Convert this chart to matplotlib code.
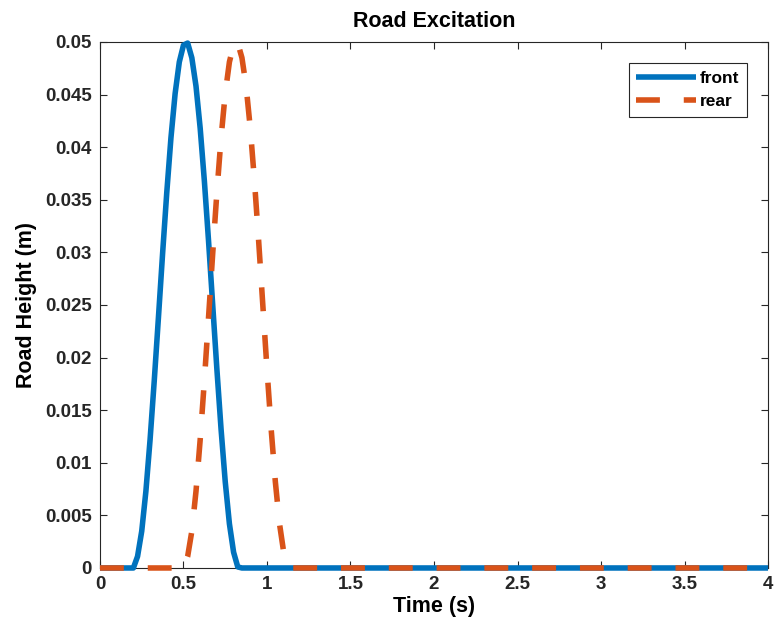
import matplotlib
matplotlib.use("Agg")
import matplotlib.pyplot as plt

plt.rcParams['font.family'] = ['Liberation Sans', 'DejaVu Sans']
plt.rcParams['font.weight'] = 'bold'

t_front = [0.0, 0.2, 0.225, 0.25, 0.275, 0.3, 0.325, 0.35, 0.375, 0.4, 0.425, 0.45, 0.475,
           0.5, 0.525, 0.55, 0.575, 0.6, 0.625, 0.65, 0.675, 0.7, 0.725, 0.75, 0.775,
           0.8, 0.825, 0.85, 4.0]
h_front = [0.0, 0.0, 0.0011, 0.0035, 0.0073, 0.0122, 0.0178, 0.0238, 0.0299, 0.0357, 0.0409,
           0.0451, 0.0481, 0.0497, 0.0499, 0.0485, 0.0458, 0.0418, 0.0368, 0.0311, 0.025,
           0.0189, 0.0132, 0.0082, 0.0042, 0.0015, 0.0001, 0.0, 0.0]
t_rear = [0.0, 0.5, 0.525, 0.55, 0.575, 0.6, 0.625, 0.65, 0.675, 0.7, 0.725, 0.75, 0.775,
          0.8, 0.825, 0.85, 0.875, 0.9, 0.925, 0.95, 0.975, 1.0, 1.025, 1.05, 1.075,
          1.1, 1.125, 1.15, 4.0]
h_rear = [0.0, 0.0, 0.0011, 0.0035, 0.0073, 0.0122, 0.0178, 0.0238, 0.0299, 0.0357, 0.0409,
          0.0451, 0.0481, 0.0497, 0.0499, 0.0485, 0.0458, 0.0418, 0.0368, 0.0311, 0.025,
          0.0189, 0.0132, 0.0082, 0.0042, 0.0015, 0.0001, 0.0, 0.0]
xticks = [0, 0.5, 1, 1.5, 2, 2.5, 3, 3.5, 4]
xticklabels = ['0', '0.5', '1', '1.5', '2', '2.5', '3', '3.5', '4']
yticks = [0, 0.005, 0.01, 0.015, 0.02, 0.025, 0.03, 0.035, 0.04, 0.045, 0.05]
yticklabels = ['0', '0.005', '0.01', '0.015', '0.02', '0.025', '0.03', '0.035', '0.04', '0.045', '0.05']

fig = plt.figure(figsize=(7.75, 6.42), dpi=100)
ax = fig.add_axes([0.129, 0.1153, 0.862, 0.8193])

ax.plot(t_front, h_front, color='#0072BD', lw=4, label='front',
        solid_capstyle='butt', clip_on=False, zorder=3)
ax.plot(t_rear, h_rear, color='#D95319', lw=4, label='rear', dashes=(4.3, 4.3),
        dash_capstyle='butt', clip_on=False, zorder=4)

ax.set_xlim(0, 4)
ax.set_ylim(0, 0.05)
ax.set_xticks(xticks)
ax.set_xticklabels(xticklabels)
ax.set_yticks(yticks)
ax.set_yticklabels(yticklabels)
ax.tick_params(direction='in', top=True, right=True, labelsize=13.5, length=5,
               width=0.8, pad=6, colors='#262626')
for s in ax.spines.values():
    s.set_linewidth(0.8)
    s.set_color('#262626')

ax.set_xlabel('Time (s)', fontsize=15.5, fontweight='bold', labelpad=2)
ax.set_ylabel('Road Height (m)', fontsize=15.5, fontweight='bold', labelpad=6)
ax.set_title('Road Excitation', fontsize=15.5, fontweight='bold', pad=11)

leg = ax.legend(loc='upper right', bbox_to_anchor=(0.9686, 0.960), borderaxespad=0,
                fontsize=12.5, frameon=True, fancybox=False, edgecolor='#262626',
                handlelength=3.45, borderpad=0.45, labelspacing=0.45, handletextpad=0.2)
leg.get_frame().set_linewidth(0.8)
leg.get_frame().set_alpha(1)

fig.savefig('out.png', dpi=100)
